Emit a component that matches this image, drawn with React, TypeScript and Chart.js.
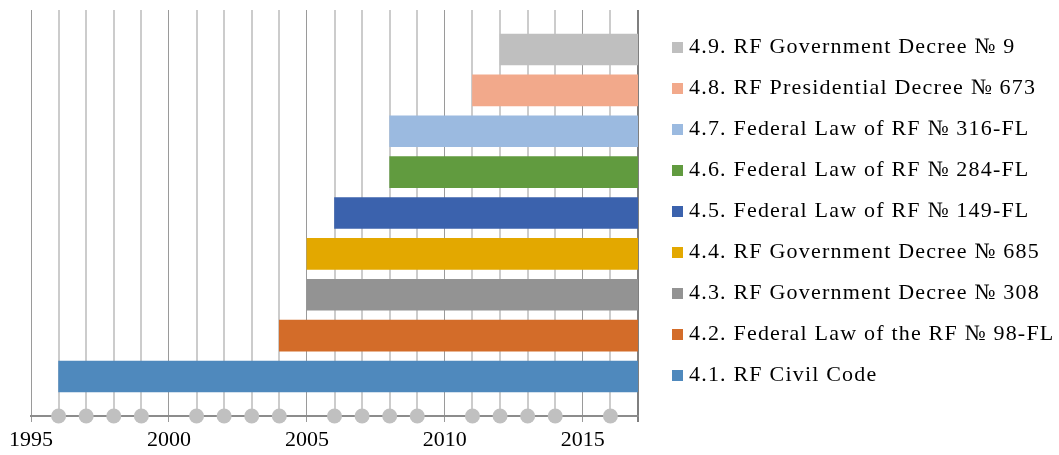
import React, { useEffect, useRef } from 'react';
import { Chart, registerables } from 'chart.js';

Chart.register(...registerables);

// ---- data ----
const LAW_LABELS = [
  '4.9. RF Government Decree № 9',
  '4.8. RF Presidential Decree № 673',
  '4.7. Federal Law of RF № 316-FL',
  '4.6. Federal Law of RF № 284-FL',
  '4.5. Federal Law of RF № 149-FL',
  '4.4. RF Government Decree № 685',
  '4.3. RF Government Decree № 308',
  '4.2. Federal Law of the RF № 98-FL',
  '4.1. RF Civil Code',
];
const START_YEARS = [2012, 2011, 2008, 2008, 2006, 2005, 2005, 2004, 1996];
const END_YEARS = [2017, 2017, 2017, 2017, 2017, 2017, 2017, 2017, 2017];
const ROW_POSITIONS = [9, 8, 7, 6, 5, 4, 3, 2, 1];
const BAR_COLORS = [
  '#bfbfbf',
  '#f2a98b',
  '#9bbae0',
  '#619b3f',
  '#3b62ad',
  '#e3a800',
  '#939393',
  '#d36c29',
  '#4f89bd',
];
const MARKER_YEARS = [
  1996, 1997, 1998, 1999, 2001, 2002, 2003, 2004, 2006, 2007, 2008, 2009,
  2011, 2012, 2013, 2014, 2016,
];
const TICK_LABEL_YEARS = [1995, 2000, 2005, 2010, 2015];
const X_MIN = 1995;
const X_MAX = 2017;
const Y_MIN = 0.034;
const Y_MAX = 9.966;

const FONT = '"Liberation Serif", "Times New Roman", serif';

function makeSwatch(color: string) {
  const c = document.createElement('canvas');
  c.width = 11;
  c.height = 11;
  const g = c.getContext('2d')!;
  g.fillStyle = color;
  g.fillRect(0, 0, 11, 11);
  return c;
}

const LEGEND_SPACING = '1.2px';
const spacingPlugin = {
  id: 'legendLetterSpacing',
  beforeLayout(chart: any) {
    chart.ctx.letterSpacing = LEGEND_SPACING;
  },
  afterLayout(chart: any) {
    chart.ctx.letterSpacing = '0px';
  },
  beforeDraw(chart: any) {
    chart.ctx.letterSpacing = LEGEND_SPACING;
  },
  beforeDatasetsDraw(chart: any) {
    chart.ctx.letterSpacing = '0px';
  },
};

export default function App() {
  const ref = useRef<HTMLCanvasElement | null>(null);

  useEffect(() => {
    if (!ref.current) return;
    const swatches = BAR_COLORS.map(makeSwatch);

    const barSets = LAW_LABELS.map((label, i) => ({
      type: 'bar' as const,
      label,
      data: [{ x: [START_YEARS[i], END_YEARS[i]], y: ROW_POSITIONS[i] }],
      backgroundColor: BAR_COLORS[i],
      borderWidth: 0,
      barThickness: 31,
      grouped: false,
      indexAxis: 'y' as const,
      xAxisID: 'x',
      yAxisID: 'y',
    }));

    const markerCircles = {
      type: 'scatter' as const,
      label: 'markers',
      data: MARKER_YEARS.map((yr) => ({ x: yr, y: Y_MIN })),
      pointRadius: 7.5,
      pointHoverRadius: 7.5,
      pointBackgroundColor: '#c0c0c0',
      pointBorderWidth: 0,
      showLine: false,
      clip: false as any,
      indexAxis: 'x' as const,
      xAxisID: 'x',
      yAxisID: 'y',
    };
    const markerCrosses = {
      type: 'scatter' as const,
      label: 'crosses',
      data: MARKER_YEARS.map((yr) => ({ x: yr, y: Y_MIN })),
      pointStyle: 'cross' as const,
      pointRadius: 7,
      pointHoverRadius: 7,
      pointBorderColor: '#7a7a7a',
      pointBackgroundColor: '#7a7a7a',
      pointBorderWidth: 1.3,
      showLine: false,
      clip: false as any,
      indexAxis: 'x' as const,
      xAxisID: 'x',
      yAxisID: 'y',
    };

    const isMajor = (v: number) => TICK_LABEL_YEARS.includes(v);
    const gridColor = (c: any) => {
      const v = c.tick ? c.tick.value : 0;
      if (v === X_MAX) return '#7f7f7f';
      return isMajor(v) ? '#9a9a9a' : '#cccccc';
    };
    const gridWidth = (c: any) => {
      const v = c.tick ? c.tick.value : 0;
      if (v === X_MAX) return 2;
      return isMajor(v) ? 1 : 2;
    };

    const chart = new Chart(ref.current, {
      type: 'bar',
      data: { datasets: [...barSets, markerCircles, markerCrosses] as any },
      plugins: [spacingPlugin],
      options: {
        animation: false,
        responsive: true,
        maintainAspectRatio: false,
        indexAxis: 'y',
        layout: { padding: { top: 10, right: 0, bottom: 0, left: 0 } },
        plugins: {
          tooltip: { enabled: false },
          legend: {
            display: true,
            position: 'right',
            align: 'start',
            fullSize: false,
            maxWidth: 401,
            title: {
              display: true,
              text: ' ',
              padding: 0,
              font: { family: FONT, size: 7, lineHeight: 1 },
            },
            labels: {
              usePointStyle: true,
              boxWidth: 1,
              padding: 19,
              color: '#000',
              font: { family: FONT, size: 22 },
              generateLabels: () =>
                LAW_LABELS.map((text, i) => ({
                  text,
                  fillStyle: BAR_COLORS[i],
                  strokeStyle: BAR_COLORS[i],
                  lineWidth: 0,
                  hidden: false,
                  datasetIndex: i,
                  pointStyle: swatches[i],
                  fontColor: '#000',
                })) as any,
            },
          },
        },
        scales: {
          x: {
            type: 'linear',
            position: 'bottom',
            min: X_MIN,
            max: X_MAX,
            offset: false,
            afterFit: (s: any) => {
              s.height = 39;
            },
            ticks: {
              stepSize: 1,
              autoSkip: false,
              maxRotation: 0,
              minRotation: 0,
              color: '#000',
              padding: 5,
              z: 1,
              font: { family: FONT, size: 22 },
              callback: (v: any) => (TICK_LABEL_YEARS.includes(Number(v)) ? String(v) : ''),
            },
            grid: {
              offset: false,
              color: gridColor,
              lineWidth: gridWidth,
              tickLength: 6,
              tickColor: gridColor,
              tickWidth: gridWidth,
              drawTicks: true,
            },
            border: { display: true, color: '#8c8c8c', width: 2 },
          },
          y: {
            type: 'linear',
            position: 'left',
            min: Y_MIN,
            max: Y_MAX,
            offset: false,
            afterFit: (s: any) => {
              s.width = 31;
            },
            ticks: { display: false },
            grid: { display: false, offset: false },
            border: { display: false },
          },
          yR: {
            type: 'linear',
            position: 'right',
            offset: false,
            afterFit: (s: any) => {
              s.width = 20;
            },
            ticks: { display: false },
            grid: { display: false },
            border: { display: false },
          },
        },
      } as any,
    });

    return () => chart.destroy();
  }, []);

  return (
    <div style={{ position: 'absolute', left: 0, top: 0, width: 1059, height: 455 }}>
      <canvas ref={ref} />
    </div>
  );
}
